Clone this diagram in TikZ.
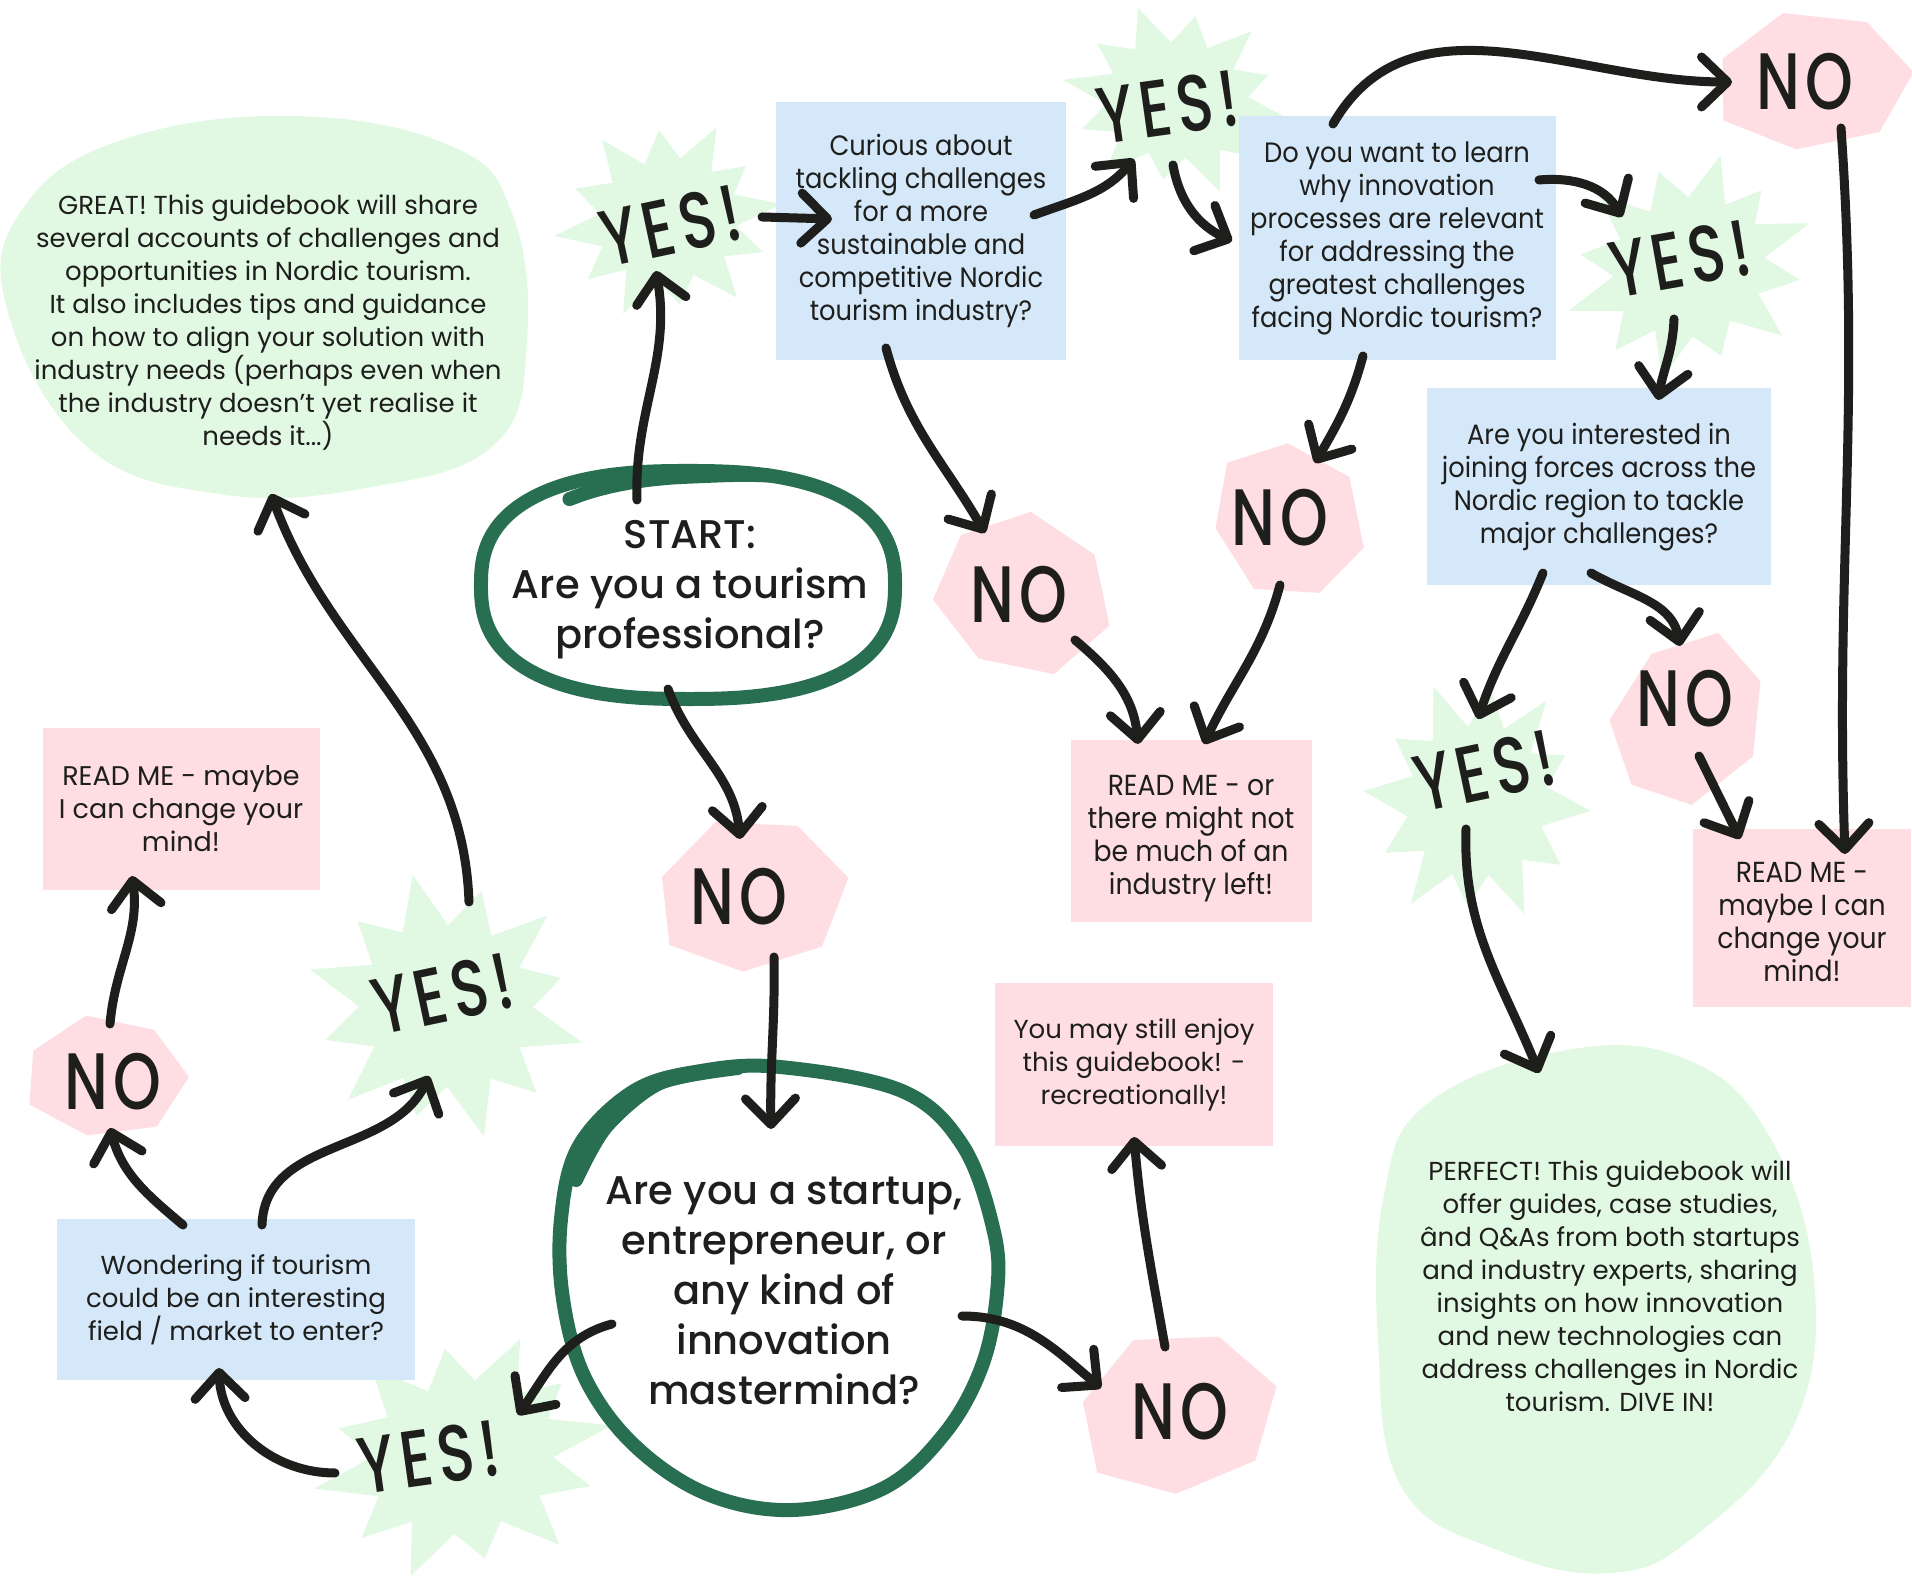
\documentclass[tikz,border=0pt]{standalone}
\usepackage{fontspec}
\usetikzlibrary{arrows.meta}
\setmainfont{Poppins}
\newfontfamily\narrowfont{Poppins}[FakeStretch=0.92]
\IfFontExistsTF{Poppins Medium}
  {\newfontfamily\medfont{Poppins Medium}
   \newfontfamily\handfont{Poppins Medium}[FakeStretch=0.76,LetterSpace=7]}
  {\newfontfamily\medfont{Poppins}
   \newfontfamily\handfont{Poppins}[FakeStretch=0.76,LetterSpace=7]}
\definecolor{ink}{HTML}{1E1E1C}
\definecolor{yesfill}{HTML}{E1F9E3}
\definecolor{askblue}{HTML}{D4E8F9}
\definecolor{readpink}{HTML}{FEDDE3}
\definecolor{ringgreen}{HTML}{286E51}
% starburst behind a YES!
\newcommand\burst[4]{\fill[yesfill, shift={#1}, rotate=#2, xscale=#3, yscale=#4]
  (0:1) -- (15:.62) -- (30:.85) -- (44:.6) -- (58:1) -- (73:.62) -- (88:.9) -- (103:.6)
  -- (118:1) -- (134:.62) -- (150:.88) -- (165:.6) -- (180:1) -- (196:.62) -- (212:.9)
  -- (226:.6) -- (240:1) -- (255:.62) -- (270:.85) -- (285:.6) -- (300:1) -- (315:.62)
  -- (330:.9) -- (345:.6) -- cycle;}
% lopsided polygon behind a NO
\newcommand\hexa[4]{\fill[readpink, shift={#1}, rotate=#2, xscale=#3, yscale=#4]
  (0:1) -- (52:.95) -- (103:1) -- (154:.95) -- (206:1) -- (257:.95) -- (308:1) -- cycle;}
% text lowered inside a fixed box
\newcommand\lowtext[2]{\makebox[0pt]{\raisebox{#1}[0pt][0pt]{\begin{tabular}{@{}c@{}}#2\end{tabular}}}}
\begin{document}
\begin{tikzpicture}[x=1pt, y=1pt, text=ink,
    quest/.style={fill=askblue, align=center, inner sep=0pt},
    read/.style={fill=readpink, align=center, inner sep=0pt},
    slim/.style={font=\narrowfont\fontsize{28}{33}\selectfont},
    wide/.style={font=\fontsize{26}{33}\selectfont},
    ringtxt/.style={align=center, inner sep=0pt, font=\medfont\fontsize{40}{50}\selectfont},
    ringline/.style={draw=ringgreen, line width=14pt, line cap=round, line join=round},
    shout/.style={font=\handfont\fontsize{80}{80}\selectfont, inner sep=0pt},
    arr/.style={draw=ink, line width=9pt, line cap=round,
      -{Straight Barb[length=26pt, width=50pt, round]}}]
  \useasboundingbox (0,0) rectangle (1912,1580);
  \fill[white] (0,0) rectangle (1912,1580);

  % blobs
  \fill[yesfill] plot[smooth cycle, tension=0.7] coordinates {(24,1373) (122,1440) (293,1464)
    (451,1434) (512,1367) (527,1239) (494,1135) (366,1092) (219,1086) (85,1135) (6,1275)};
  \fill[yesfill] plot[smooth cycle, tension=0.7] coordinates {(1427,476) (1561,529) (1683,522)
    (1768,446) (1814,300) (1793,153) (1695,44) (1610,7) (1500,29) (1402,92) (1378,239) (1384,385)};

  % bursts and polygons
  \burst{(668,1360)}{8}{115}{100}
  \burst{(1177,1480)}{-10}{116}{95}
  \burst{(1689,1313)}{20}{128}{111}
  \burst{(1477,779)}{-5}{114}{125}
  \burst{(463,123)}{12}{152}{122}
  \burst{(446,574)}{-15}{141}{134}
  \hexa{(751,685)}{10}{99}{80}
  \hexa{(1023,986)}{-20}{92}{82}
  \hexa{(1288,1060)}{35}{75}{84}
  \hexa{(1812,1499)}{5}{102}{72}
  \hexa{(1688,861)}{-30}{75}{92}
  \hexa{(1177,167)}{15}{103}{84}
  \hexa{(105,503)}{0}{84}{63}

  % boxes
  \node[quest, slim, minimum width=290, minimum height=258] (curious) at (921,1349)
    {Curious about\\tackling challenges\\for a more\\sustainable and\\competitive Nordic\\tourism industry?};
  \node[quest, slim, minimum width=317, minimum height=244] (learn) at (1397,1342)
    {Do you want to learn\\why innovation\\processes are relevant\\for addressing the\\greatest challenges\\facing Nordic tourism?};
  \node[quest, slim, minimum width=344, minimum height=197] (join) at (1599,1093)
    {Are you interested in\\joining forces across the\\Nordic region to tackle\\major challenges?};
  \node[read, slim, font=\narrowfont\fontsize{29}{33}\selectfont, minimum width=241, minimum height=182] (readA) at (1191,749)
    {\lowtext{-14pt}{READ ME - or\\there might not\\be much of an\\industry left!}};
  \node[read, slim, font=\narrowfont\fontsize{29}{33}\selectfont, minimum width=218, minimum height=178] (readB) at (1802,662)
    {\lowtext{-14pt}{READ ME -\\maybe I can\\change your\\mind!}};
  \node[read, wide, minimum width=278, minimum height=163] (stillR) at (1134,515)
    {You may still enjoy\\this guidebook! -\\recreationally!};
  \node[quest, wide, minimum width=358, minimum height=161] (wonder) at (236,280)
    {Wondering if tourism\\could be an interesting\\field / market to enter?};
  \node[read, wide, font=\fontsize{27}{33}\selectfont, minimum width=277, minimum height=162] (readC) at (181,771)
    {READ ME - maybe\\I can change your\\mind!};
  \node[wide, align=center] (great) at (268,1257)
    {GREAT! This guidebook will share\\several accounts of challenges and\\opportunities in Nordic tourism.\\It also includes tips and guidance\\on how to align your solution with\\industry needs (perhaps even when\\the industry doesn’t yet realise it\\needs it...)};
  \node[wide, align=center] (perfect) at (1610,294)
    {PERFECT! This guidebook will\\offer guides, case studies,\\ând Q\&As from both startups\\and industry experts, sharing\\insights on how innovation\\and new technologies can\\address challenges in Nordic\\tourism. DIVE IN!};

  % rings
  \node[ringtxt] (start) at (690,990) {START:\\Are you a tourism\\professional?};
  \node[ringtxt] (startup) at (784,289) {Are you a startup,\\entrepreneur, or\\any kind of\\innovation\\mastermind?};
  \draw[ringline, shift={([shift={(-2,5)}]start.center)}] plot[smooth cycle, domain=1:358, samples=120]
    ({207*sign(cos(\x))*abs(cos(\x))^0.8}, {114*sign(sin(\x))*abs(sin(\x))^0.8});
  \draw[ringline, shift={([shift={(-2,5)}]start.center)}] plot[smooth, domain=72:122, samples=11]
    ({(207-10*(\x-72)/50)*sign(cos(\x))*abs(cos(\x))^0.8}, {(114-16*(\x-72)/50)*sign(sin(\x))*abs(sin(\x))^0.8});
  \draw[ringline] plot[smooth cycle, tension=0.6] coordinates {(780,513) (902,489) (963,434)
    (994,348) (997,287) (982,214) (945,147) (884,92) (793,70) (707,86) (634,135) (585,202)
    (563,281) (561,361) (579,434) (634,489) (701,509)};
  \draw[ringline] plot[smooth] coordinates {(576,400) (606,453) (660,497) (738,512)};

  % shouts
  \node[shout, rotate=12] (yesA) at (671,1354) {YES!};
  \node[shout, rotate=8] (yesB) at (1168,1473) {YES!};
  \node[shout, rotate=10] (yesC) at (1680,1321) {YES!};
  \node[shout, rotate=12] (yesD) at (1485,809) {YES!};
  \node[shout, rotate=8] (yesE) at (429,123) {YES!};
  \node[shout, rotate=12] (yesF) at (443,586) {YES!};
  \node[shout] (noA) at (739,683) {NO};
  \node[shout] (noB) at (1019,985) {NO};
  \node[shout] (noC) at (1280,1062) {NO};
  \node[shout] (noD) at (1805,1498) {NO};
  \node[shout] (noE) at (1685,881) {NO};
  \node[shout] (noF) at (1180,168) {NO};
  \node[shout] (noG) at (113,498) {NO};

  % connectors
  \draw[arr] ([shift={(-53,90)}]start.center) to[out=92,in=-80] ([shift={(-15,-45)}]yesA.center);
  \draw[arr] ([shift={(91,9)}]yesA.center) -- ([shift={(-89,12)}]curious.center);
  \draw[arr] ([shift={(113,16)}]curious.center) to[out=20,in=-130] ([shift={(-34,-52)}]yesB.center);
  \draw[arr] ([shift={(5,-58)}]yesB.center) to[out=-80,in=155] ([shift={(-165,-3)}]learn.center);
  \draw[arr] ([shift={(-64,114)}]learn.center) to[out=60,in=180] ([shift={(-73,0)}]noD.center);
  \draw[arr] ([shift={(142,58)}]learn.center) to[out=5,in=120] ([shift={(-58,42)}]yesC.center);
  \draw[arr] ([shift={(-6,-60)}]yesC.center) to[out=-92,in=80] ([shift={(59,87)}]join.center);
  \draw[arr] ([shift={(36,-46)}]noD.center) to[out=-86,in=92] ([shift={(43,64)}]readB.center);
  \draw[arr] ([shift={(-35,-117)}]curious.center) to[out=-75,in=120] ([shift={(-34,62)}]noB.center);
  \draw[arr] ([shift={(-34,-118)}]learn.center) to[out=-105,in=60] ([shift={(35,55)}]noC.center);
  \draw[arr] ([shift={(56,-45)}]noB.center) to[out=-40,in=95] ([shift={(-53,87)}]readA.center);
  \draw[arr] ([shift={(0,-67)}]noC.center) to[out=-105,in=65] ([shift={(13,87)}]readA.center);
  \draw[arr] ([shift={(-56,-86)}]join.center) to[out=-112,in=72] ([shift={(-7,52)}]yesD.center);
  \draw[arr] ([shift={(-8,-86)}]join.center) to[out=-30,in=100] ([shift={(-5,53)}]noE.center);
  \draw[arr] ([shift={(14,-57)}]noE.center) -- ([shift={(-62,79)}]readB.center);
  \draw[arr] ([shift={(-19,-58)}]yesD.center) to[out=-92,in=112] ([shift={(-71,213)}]perfect.center);
  \draw[arr] ([shift={(-22,-99)}]start.center) to[out=-70,in=95] ([shift={(1,58)}]noA.center);
  \draw[arr] ([shift={(35,-60)}]noA.center) to[out=-89,in=91] ([shift={(-13,162)}]startup.center);
  \draw[arr] ([shift={(178,-25)}]startup.center) to[out=0,in=140] ([shift={(-79,24)}]noF.center);
  \draw[arr] ([shift={(-15,65)}]noF.center) to[out=100,in=-85] ([shift={(0,-72)}]stillR.center);
  \draw[arr] ([shift={(-172,-33)}]startup.center) to[out=195,in=55] ([shift={(89,42)}]yesE.center);
  \draw[arr] ([shift={(-94,-16)}]yesE.center) to[out=180,in=-88] ([shift={(-17,-68)}]wonder.center);
  \draw[arr] ([shift={(-53,75)}]wonder.center) to[out=140,in=-75] ([shift={(-3,-46)}]noG.center);
  \draw[arr] ([shift={(26,75)}]wonder.center) to[out=88,in=-115] ([shift={(-14,-82)}]yesF.center);
  \draw[arr] ([shift={(-3,58)}]noG.center) to[out=85,in=-82] ([shift={(-49,-67)}]readC.center);
  \draw[arr] ([shift={(26,92)}]yesF.center) to[out=92,in=-70] ([shift={(3,-171)}]great.center);
\end{tikzpicture}
\end{document}
